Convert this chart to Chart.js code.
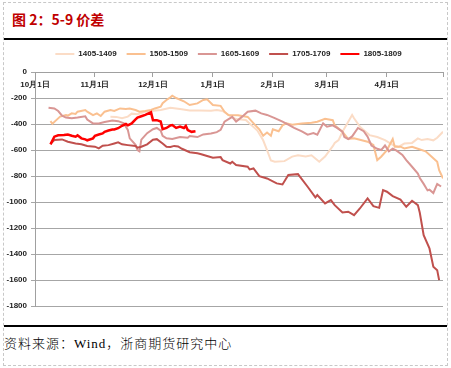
<!DOCTYPE html>
<html><head><meta charset="utf-8">
<script src="https://cdn.jsdelivr.net/npm/chart.js@4/dist/chart.umd.min.js"></script>
<style>
body{margin:0;background:#fff;}
#page{position:relative;width:451px;height:368px;overflow:hidden;background:#fff;}
#frame{position:absolute;left:3px;top:2px;width:443px;height:362px;border:1px dashed #c8c8c8;}
#title{position:absolute;left:12px;top:11px;font:bold 14px/16px 'Noto Sans CJK SC',sans-serif;color:#c00000;white-space:nowrap;}
.rule{position:absolute;left:4px;width:443px;height:2px;background:#000;}
#src{position:absolute;left:4px;top:336px;font:300 13px/16px 'Liberation Serif','Noto Sans CJK SC',serif;letter-spacing:1px;color:#000;white-space:nowrap;}
#wrap{position:absolute;left:0;top:40px;width:451px;height:275px;}
</style></head>
<body><div id="page">
<div id="frame"></div>
<div id="title">图 2：5-9 价差</div>
<div class="rule" style="top:38px"></div>
<div id="wrap"><canvas id="c"></canvas></div>
<div class="rule" style="top:325px"></div>
<div id="src">资料来源：Wind，浙商期货研究中心</div>
</div>
<script>
// x values are days counted from 10月1日
const seriesNames = ['1405-1409','1505-1509','1605-1609','1705-1709','1805-1809'];
const monthTickDays = [0,31,61,92,123,151,182,211];
const monthTickLabels = ['10月1日','11月1日','12月1日','1月1日','2月1日','3月1日','4月1日',''];

const days1405 = [39,42,45,48,50,53,57,60,65,70,75,80,85,91,94,97,101,104,109,112,115,118,120,122,124,129,133,136,140,143,147,150,154,155,157,159,162,164,165,168,171,173,177,181,185,188,191,195,198,200,203,206,208,211];
const vals1405 = [-343,-345,-356,-343,-320,-325,-305,-300,-292,-275,-285,-295,-295,-298,-292,-300,-340,-362,-369,-410,-450,-525,-600,-680,-690,-685,-650,-640,-650,-640,-690,-650,-570,-545,-523,-459,-382,-331,-356,-420,-459,-485,-500,-523,-560,-575,-550,-545,-510,-523,-515,-525,-505,-459];

const days1505 = [8,9,11,13,16,17,19,21,22,26,27,30,32,34,36,39,41,44,47,49,52,54,57,60,62,65,66,68,70,71,73,77,80,84,87,89,92,96,98,100,105,110,114,116,118,120,122,123,126,128,130,133,138,143,146,150,154,155,159,162,165,169,172,175,177,179,182,185,186,189,191,195,198,202,205,208,209,211];
const vals1505 = [-377,-398,-370,-343,-331,-335,-318,-322,-305,-292,-305,-331,-318,-338,-305,-292,-300,-280,-285,-280,-292,-305,-300,-292,-280,-267,-240,-215,-195,-182,-200,-225,-254,-241,-215,-210,-254,-260,-305,-330,-333,-345,-410,-440,-490,-465,-490,-440,-455,-410,-395,-405,-395,-390,-382,-360,-370,-410,-459,-515,-510,-525,-536,-561,-677,-651,-600,-515,-574,-574,-587,-574,-590,-610,-650,-690,-754,-818];

const days1605 = [7,10,12,14,16,19,22,26,27,30,33,36,40,43,46,48,49,52,53,54,55,58,61,63,65,66,68,71,75,79,80,84,87,91,94,96,98,102,104,107,110,114,117,120,124,128,131,134,138,141,144,146,149,151,154,156,159,160,162,164,167,170,172,174,177,179,181,183,185,187,190,192,195,198,199,201,203,204,206,208,210];
const vals1605 = [-274,-280,-300,-335,-350,-355,-350,-340,-365,-395,-395,-385,-372,-378,-395,-445,-510,-560,-600,-610,-520,-470,-440,-430,-450,-490,-510,-515,-500,-505,-492,-500,-480,-472,-462,-445,-382,-345,-382,-345,-305,-297,-318,-330,-355,-382,-405,-430,-456,-482,-470,-482,-395,-420,-410,-428,-459,-500,-515,-495,-430,-455,-497,-565,-590,-600,-565,-610,-590,-605,-638,-677,-728,-780,-815,-860,-910,-905,-930,-860,-880];

const days1705 = [8,10,14,17,21,24,27,31,33,35,38,41,43,45,48,52,53,55,58,61,63,66,68,70,72,74,76,80,84,86,89,92,96,97,101,102,104,110,111,113,116,120,125,128,131,136,141,145,146,150,153,155,159,162,165,168,172,175,178,180,182,185,189,192,195,198,199,201,204,206,208,209];
const vals1705 = [-552,-523,-518,-536,-549,-556,-569,-574,-587,-567,-562,-549,-541,-556,-562,-569,-582,-574,-556,-520,-516,-549,-574,-576,-568,-572,-590,-617,-625,-632,-646,-659,-654,-677,-703,-690,-715,-728,-749,-741,-800,-818,-856,-864,-792,-785,-882,-964,-946,-1010,-985,-1023,-1080,-1074,-1100,-1049,-972,-1031,-1044,-908,-920,-954,-980,-1036,-990,-1023,-1082,-1254,-1356,-1497,-1523,-1600];

const days1805 = [8,10,12,15,17,19,21,22,24,26,27,30,31,33,35,36,38,40,41,43,45,47,48,50,52,53,55,57,60,61,63,65,66,68,70,71,73,75,77,78,79,81,83];
const vals1805 = [-556,-497,-487,-485,-480,-490,-497,-487,-510,-518,-525,-510,-490,-480,-472,-460,-450,-442,-442,-432,-413,-400,-410,-395,-365,-350,-340,-330,-310,-370,-370,-380,-440,-430,-410,-408,-430,-420,-430,-415,-446,-460,-455];

const colors = ['#FBDCC6','#FAC090','#D99694','#C0504D','#FF0000'];
const widths = [2,2,2,2,2.5];
const dayLists = [days1405,days1505,days1605,days1705,days1805];
const valLists = [vals1405,vals1505,vals1605,vals1705,vals1805];

const datasets = seriesNames.map((name,i)=>({
  label:name,
  data:dayLists[i].map((d,k)=>({x:d,y:valLists[i][k]})),
  borderColor:colors[i],
  backgroundColor:colors[i],
  borderWidth:widths[i],
  pointRadius:0,
  tension:0,
  order:5-i
}));

const legendHeightFix = {
  id:'legendHeightFix',
  afterInit(chart){
    const lg = chart.legend;
    const orig = lg.fit.bind(lg);
    lg.fit = function(){ orig(); this.height = 32; };
  }
};

new Chart(document.getElementById('c'),{
  type:'line',
  data:{datasets},
  plugins:[legendHeightFix],
  options:{
    responsive:true,maintainAspectRatio:false,animation:false,
    layout:{padding:{top:0,left:14,right:8,bottom:6}},
    plugins:{
      tooltip:{enabled:false},
      legend:{
        position:'top',
        labels:{
          boxWidth:19,boxHeight:2,padding:10,color:'#222',
          font:{family:'Liberation Sans',size:8,weight:'bold'},
          sort:(a,b)=>a.datasetIndex-b.datasetIndex,
          generateLabels(chart){
            const items = Chart.defaults.plugins.legend.labels.generateLabels(chart);
            items.forEach(it=>{it.lineWidth=0;it.fillStyle=it.strokeStyle;});
            return items;
          }
        }
      }
    },
    scales:{
      x:{
        type:'linear',position:{y:0},min:0,max:211,
        grid:{drawOnChartArea:false,color:'#a0a0a0',tickLength:4},
        border:{color:'#a0a0a0'},
        afterBuildTicks(scale){scale.ticks = monthTickDays.map(v=>({value:v}));},
        ticks:{
          autoSkip:false,maxRotation:0,padding:4,color:'#222',
          font:{family:'Liberation Sans',size:8,weight:'bold'},
          callback(v){const i=monthTickDays.indexOf(v);return i>=0?monthTickLabels[i]:'';}
        }
      },
      y:{
        min:-1800,max:0,
        afterFit(scale){scale.width=21; scale._computeLabelArea=function(){return undefined;};},
        grid:{color:'#a6a6a6',tickLength:4},
        border:{color:'#a0a0a0'},
        ticks:{stepSize:200,padding:4,color:'#222',autoSkip:false,
          font:{family:'Liberation Sans',size:8,weight:'bold'},
          callback(v){return String(v);}
        }
      }
    }
  }
});
</script>
</body></html>
